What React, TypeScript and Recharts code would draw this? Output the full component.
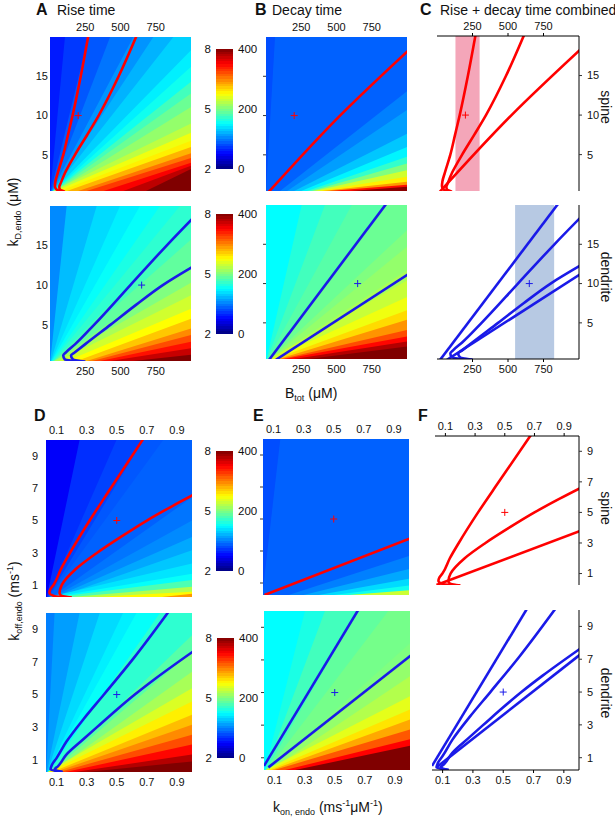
import React from "react";
import { ComposedChart, Area, Line, Scatter, XAxis, YAxis, ReferenceArea } from "recharts";

const FONT = "'Liberation Sans', Arial, Helvetica, sans-serif";
const RED = "#ff0000";
const BLUE = "#1a1ae8";

// tick labels
const bTicks = [250, 500, 750];
const kdTicks = [5, 10, 15];
const konTicks = [0.1, 0.3, 0.5, 0.7, 0.9];
const koffTicks = [1, 3, 5, 7, 9];
const cbarLeft = ["8", "5", "2"];
const cbarRight = ["400", "200", "0"];

// heat maps: each edge is where one iso-level line enters and leaves the frame [x0, y0, x1, y1];
// levels = colour-bar value (0-400) of the background, then of the region below each edge
const riseSpineEdges = [
  [0, 0, 106, 20], [0, 0, 272, 20], [0, 0, 426, 20], [0, 0, 591, 20], [0, 0, 733, 20],
  [0, 0, 875, 20], [0, 0, 1000, 18.3], [0, 0, 1000, 16.2], [0, 0, 1000, 14.3], [0, 0, 1000, 12.8],
  [0, 0, 1000, 11.1], [20, 0.4, 1000, 9.0], [40, 0.4, 1000, 7.8], [70, 0.4, 1000, 6.8],
  [120, 0.4, 1000, 6.0], [200, 0.4, 1000, 5.2], [260, 0.4, 1000, 4.6], [380, 0.4, 1000, 4.0],
  [520, 0.4, 1000, 3.6], [680, 0.4, 1000, 3.2],
];
const riseSpineLevels = [60, 72, 84, 96, 108, 120, 132, 144, 156, 176, 192, 208, 224, 244, 256, 280, 304, 328, 352, 376, 400];

const riseDendEdges = [
  [0, 0, 118, 20], [0, 0, 331, 20], [0, 0, 496, 20], [0, 0, 638, 20], [0, 0, 780, 20],
  [0, 0, 922, 20], [0, 0, 1000, 17.8], [0, 0, 1000, 15.75], [0, 0, 1000, 12.4],
  [30, 0.4, 1000, 10.3], [60, 0.4, 1000, 8.7], [120, 0.4, 1000, 7.0], [190, 0.4, 1000, 5.75],
  [260, 0.4, 1000, 4.5], [300, 0.4, 1000, 3.7], [355, 0.4, 1000, 2.85], [426, 0.4, 1000, 2.0],
  [590, 0.4, 1000, 1.2],
];
const riseDendLevels = [104, 124, 136, 144, 152, 160, 168, 176, 188, 200, 216, 232, 250, 272, 296, 320, 344, 372, 400];

const decaySpineEdges = [
  [0, 0.4, 64, 20], [100, 0.4, 1000, 13.1], [150, 0.4, 1000, 10.7], [200, 0.4, 1000, 7.7],
  [250, 0.4, 1000, 6.0], [290, 0.4, 1000, 4.75], [320, 0.4, 1000, 3.9], [340, 0.4, 1000, 3.05],
  [370, 0.4, 1000, 2.2], [400, 0.4, 1000, 1.57], [450, 0.4, 1000, 1.2], [600, 0.4, 1000, 0.95],
];
const decaySpineLevels = [80, 88, 100, 112, 128, 146, 170, 200, 232, 256, 290, 345, 395];

const decayDendEdges = [
  [0, 0, 253, 20], [0, 0, 418, 20], [0, 0, 608, 20], [0, 0, 851, 20], [0, 0, 1000, 16.8],
  [0, 0, 1000, 14.7], [0, 0, 1000, 11.7], [20, 0.4, 1000, 10.4], [40, 0.4, 1000, 8.3],
  [60, 0.4, 1000, 6.6], [90, 0.4, 1000, 5.4], [110, 0.4, 1000, 4.1], [130, 0.4, 1000, 3.26],
  [200, 0.4, 1000, 2.63], [300, 0.4, 1000, 2.0],
];
const decayDendLevels = [150, 164, 176, 184, 192, 200, 208, 216, 228, 244, 264, 292, 320, 348, 380, 400];

const kinRiseSpineEdges = [
  [0.03, 0, 0.253, 10], [0.03, 0, 0.498, 10], [0.03, 0, 0.676, 10], [0.03, 0, 0.809, 10],
  [0.03, 0, 1, 6.44], [0.03, 0, 1, 5.0], [0.03, 0, 1, 3.97], [0.03, 0, 1, 3.15],
  [0.05, 0.25, 1, 2.33], [0.07, 0.25, 1, 1.7], [0.1, 0.25, 1, 1.3], [0.2, 0.25, 1, 0.88],
  [0.35, 0.25, 1, 0.57], [0.8, 0.25, 1, 0.45],
];
const kinRiseSpineLevels = [48, 68, 76, 84, 88, 96, 104, 116, 128, 140, 152, 180, 220, 252, 290];

const kinRiseDendEdges = [
  [0.03, 0, 0.087, 10], [0.03, 0, 0.253, 10], [0.03, 0, 0.387, 10], [0.03, 0, 0.542, 10],
  [0.03, 0, 0.631, 10], [0.03, 0, 0.787, 10], [0.03, 0, 1, 8.64], [0.03, 0, 1, 7.62],
  [0.03, 0, 1, 6.4], [0.04, 0.25, 1, 5.39], [0.05, 0.25, 1, 4.57], [0.07, 0.25, 1, 3.76],
  [0.09, 0.25, 1, 3.15], [0.12, 0.25, 1, 2.54], [0.16, 0.25, 1, 1.93], [0.22, 0.25, 1, 1.32],
  [0.3, 0.25, 1, 0.9],
];
const kinRiseDendLevels = [100, 112, 124, 136, 144, 152, 168, 184, 200, 216, 236, 256, 276, 296, 320, 348, 380, 400];

const kinDecaySpineEdges = [
  [0.03, 0.6, 0.145, 10], [0.2, 0.25, 1, 2.69], [0.3, 0.25, 1, 1.87], [0.4, 0.25, 1, 1.26],
  [0.5, 0.25, 1, 0.85], [0.6, 0.25, 1, 0.54],
];
const kinDecaySpineLevels = [80, 88, 100, 116, 136, 156, 230];

const kinDecayDendEdges = [
  [0.03, 0, 0.302, 10], [0.03, 0, 0.435, 10], [0.03, 0, 0.653, 10], [0.03, 0, 0.856, 10],
  [0.03, 0, 1, 8.03], [0.03, 0, 1, 7.26], [0.03, 0, 1, 6.0], [0.04, 0.25, 1, 4.78],
  [0.06, 0.25, 1, 3.96], [0.08, 0.25, 1, 3.35], [0.1, 0.25, 1, 2.74], [0.17, 0.25, 1, 2.13],
  [0.236, 0.25, 1, 1.73],
];
const kinDecayDendLevels = [150, 160, 176, 188, 196, 200, 208, 220, 240, 260, 284, 316, 350, 400];

// contour lines [x, y], ordered bottom to top
const riseSpineA = [[85, 0.3], [45, 0.6], [35, 1.0], [38, 1.6], [55, 2.7], [94, 5], [127, 7.5], [160, 10], [218, 15], [272, 20.2]];
const riseSpineB = [[105, 0.3], [70, 0.6], [66, 0.9], [76, 1.4], [106, 2.7], [177, 5], [262, 7.5], [345, 10], [487, 15], [615, 20.2]];
const decaySpine = [[15, 0.2], [525, 10], [1010, 18.3]];
const riseDendA = [[250, 0.3], [105, 0.6], [94, 1.1], [113, 1.5], [177, 2.5], [314, 5], [570, 10], [827, 15], [1010, 18.4]];
const riseDendB = [[250, 0.3], [163, 0.6], [149, 1.1], [177, 1.5], [248, 2.5], [430, 5], [610, 7.5], [800, 10], [1010, 12.3]];
const decayDendA = [[22, 0.3], [855, 20.2]];
const decayDendB = [[70, 0.3], [1010, 11.2]];

const kinRiseSpineA = [[0.2, 0.22], [0.087, 0.3], [0.053, 0.51], [0.06, 0.75], [0.08, 1.0], [0.13, 2.0], [0.19, 3.0], [0.32, 5.0], [0.46, 7.0], [0.675, 10.05]];
const kinRiseSpineB = [[0.2, 0.22], [0.13, 0.35], [0.12, 0.5], [0.135, 1.0], [0.23, 2.0], [0.37, 3.0], [0.53, 4.0], [0.7, 5.0], [0.87, 5.9], [1.01, 6.6]];
const kinDecaySpine = [[0.04, 0.25], [1.01, 3.8]];
const kinRiseDendA = [[0.14, 0.25], [0.06, 0.4], [0.07, 0.7], [0.1, 1.1], [0.165, 2.1], [0.28, 3.5], [0.415, 5.0], [0.61, 7.2], [0.842, 10.05]];
const kinRiseDendB = [[0.14, 0.25], [0.087, 0.41], [0.109, 0.6], [0.164, 1.3], [0.276, 2.24], [0.387, 3.15], [0.5, 4.07], [0.62, 5.0], [0.76, 6.0], [1.01, 7.66]];
const kinDecayDendA = [[0.03, 0.5], [0.655, 10.05]];
const kinDecayDendB = [[0.059, 0.41], [1.01, 7.3]];

// measured values (+) and ranges of B_tot
const spineOpt = [{ x: 200, y: 10 }];
const dendOpt = [{ x: 650, y: 10 }];
const kinOpt = [{ x: 0.5, y: 5 }];
const spineRange = [130, 300];
const dendRange = [550, 825];

function jet(v: number) {
  const f = Math.max(0, Math.min(1, v / 400));
  const c = (t: number) => Math.round(255 * Math.max(0, Math.min(1, t)));
  const r = c(Math.min(4 * f - 1.5, -4 * f + 4.5));
  const g = c(Math.min(4 * f - 0.5, -4 * f + 3.5));
  const b = c(Math.min(4 * f + 0.5, -4 * f + 2.5));
  return `rgb(${r},${g},${b})`;
}

function bandRows(edges: number[][], xd: number[]) {
  return xd.map((x) => {
    const row: Record<string, any> = { x, bg: [-500, 500] };
    edges.forEach((e, i) => {
      row["b" + i] = [-500, e[1] + ((e[3] - e[1]) * (x - e[0])) / (e[2] - e[0])];
    });
    return row;
  });
}

const plus = (color: string) => (props: any) => {
  const { cx, cy } = props;
  return (
    <g>
      <line x1={cx - 3.5} x2={cx + 3.5} y1={cy} y2={cy} stroke={color} strokeWidth={1} />
      <line x1={cx} x2={cx} y1={cy - 3.5} y2={cy + 3.5} stroke={color} strokeWidth={1} />
    </g>
  );
};

type PanelProps = {
  left: number; top: number; w: number; h: number;
  xd: number[]; yd: number[]; xTicks: number[]; yTicks: number[];
  xSide: "top" | "bottom"; ySide: "left" | "right";
  yLabels?: boolean; framed?: boolean; yGap?: number;
  edges?: number[][]; levels?: number[];
  curves: number[][][]; color: string; marker: { x: number; y: number }[];
  band?: number[]; bandColor?: string;
};

function Panel(p: PanelProps) {
  const PAD = 34, XH = 22, YW = 30;
  const rows = p.edges ? bandRows(p.edges, p.xd) : p.xd.map((x) => ({ x }));
  const tick = { fontSize: 11, fill: "#111", fontFamily: FONT };
  const axisLine = p.framed ? { stroke: "#000", strokeWidth: 1 } : false;
  const margin = {
    top: PAD - (p.xSide === "top" ? XH : 0),
    bottom: PAD - (p.xSide === "bottom" ? XH : 0),
    left: PAD - (p.ySide === "left" ? YW : 0),
    right: PAD - (p.ySide === "right" ? YW : 0),
  };
  return (
    <div style={{ position: "absolute", left: p.left - PAD, top: p.top - PAD }}>
      <ComposedChart width={p.w + 2 * PAD} height={p.h + 2 * PAD} data={rows} margin={margin}>
        <XAxis
          type="number" dataKey="x" domain={p.xd} allowDataOverflow orientation={p.xSide}
          height={XH} ticks={p.xTicks} interval={0} tick={tick}
          tickSize={p.framed ? 3 : 0} tickMargin={p.framed ? 3 : 6}
          tickLine={p.framed ? { stroke: "#000" } : false} axisLine={axisLine}
        />
        <YAxis
          type="number" domain={p.yd} allowDataOverflow orientation={p.ySide}
          width={YW} ticks={p.yTicks} interval={0} tick={tick}
          tickFormatter={p.yLabels === false ? () => "" : undefined}
          tickSize={p.yLabels === false || p.framed ? 3 : 0}
          tickMargin={p.framed ? 5 : p.yGap ?? 3}
          tickLine={p.yLabels === false || p.framed ? { stroke: "#333" } : false}
          axisLine={axisLine}
        />
        {p.edges && (
          <Area dataKey="bg" type="linear" stroke="none" fill={jet(p.levels![0])} fillOpacity={1}
            dot={false} activeDot={false} isAnimationActive={false} />
        )}
        {p.edges?.map((_, i) => (
          <Area key={"b" + i} dataKey={"b" + i} type="linear" stroke="none" fill={jet(p.levels![i + 1])}
            fillOpacity={1} dot={false} activeDot={false} isAnimationActive={false} />
        ))}
        {p.band && (
          <ReferenceArea x1={p.band[0]} x2={p.band[1]} y1={p.yd[0]} y2={p.yd[1]} fill={p.bandColor}
            fillOpacity={1} stroke="none" />
        )}
        {p.curves.map((c, i) => (
          <Line key={"c" + i} data={c.map(([x, y]) => ({ x, y }))} dataKey="y" type="monotoneY"
            stroke={p.color} strokeWidth={2.6} dot={false} activeDot={false} isAnimationActive={false} />
        ))}
        <Scatter data={p.marker} dataKey="y" shape={plus(p.color)} isAnimationActive={false} />
      </ComposedChart>
    </div>
  );
}

function ColorBar({ left, top }: { left: number; top: number }) {
  const steps = 48;
  const stops: string[] = [];
  for (let i = 0; i < steps; i++) {
    const c = jet(((i + 0.5) / steps) * 400);
    stops.push(`${c} ${(i / steps) * 100}%`, `${c} ${((i + 1) / steps) * 100}%`);
  }
  const lab: React.CSSProperties = { position: "absolute", fontSize: 11.5, lineHeight: "12px", fontFamily: FONT, color: "#111" };
  return (
    <>
      <div style={{ position: "absolute", left, top, width: 17, height: 120, background: `linear-gradient(to top, ${stops.join(",")})` }} />
      {cbarLeft.map((t, i) => (
        <div key={"l" + t} style={{ ...lab, left: left - 35, width: 30, textAlign: "right", top: top + i * 60 - 6 }}>{t}</div>
      ))}
      {cbarRight.map((t, i) => (
        <div key={"r" + t} style={{ ...lab, left: left + 22, top: top + i * 60 - 6 }}>{t}</div>
      ))}
    </>
  );
}

function Title({ letter, text, left, textLeft, base }: { letter: string; text?: string; left: number; textLeft?: number; base: number }) {
  return (
    <>
      <div style={{ position: "absolute", left, top: base - 13.5, fontSize: 16, lineHeight: "16px", fontWeight: "bold" }}>{letter}</div>
      {text && <div style={{ position: "absolute", left: textLeft, top: base - 12, fontSize: 14, lineHeight: "14px", whiteSpace: "nowrap" }}>{text}</div>}
    </>
  );
}

function VText({ cx, cy, angle, children }: { cx: number; cy: number; angle: number; children: React.ReactNode }) {
  return (
    <div style={{ position: "absolute", left: cx, top: cy, transform: `translate(-50%, -50%) rotate(${angle}deg)`, whiteSpace: "nowrap", fontSize: 14, lineHeight: "16px" }}>
      {children}
    </div>
  );
}

const sub: React.CSSProperties = { fontSize: 9, verticalAlign: "-3px" };
const sup: React.CSSProperties = { fontSize: 9, verticalAlign: "6px" };

export default function App() {
  const top = { xd: [0, 1000], yd: [0.4, 20], xTicks: bTicks, yTicks: kdTicks };
  const bot = { xd: [0.03, 1], yd: [0.25, 10], xTicks: konTicks, yTicks: koffTicks };
  return (
    <div style={{ position: "absolute", left: 0, top: 0, width: 615, height: 819, background: "#fff", overflow: "hidden", fontFamily: FONT, color: "#111" }}>
      <Title letter="A" text="Rise time" left={36} textLeft={57} base={15} />
      <Title letter="B" text="Decay time" left={255} textLeft={272} base={15} />
      <Title letter="C" text="Rise + decay time combined" left={420} textLeft={440} base={15} />
      <Title letter="D" left={34} base={421} />
      <Title letter="E" left={253} base={421} />
      <Title letter="F" left={418} base={421} />

      <Panel {...top} left={50} top={37} w={141} h={154} xSide="top" ySide="left" yGap={2}
        edges={riseSpineEdges} levels={riseSpineLevels} curves={[riseSpineA, riseSpineB]} color={RED} marker={spineOpt} />
      <Panel {...top} left={50} top={206} w={141} h={155} xSide="bottom" ySide="left" yGap={2}
        edges={riseDendEdges} levels={riseDendLevels} curves={[riseDendA, riseDendB]} color={BLUE} marker={dendOpt} />
      <Panel {...top} left={266} top={37} w={141} h={154} xSide="top" ySide="left" yLabels={false}
        edges={decaySpineEdges} levels={decaySpineLevels} curves={[decaySpine]} color={RED} marker={spineOpt} />
      <Panel {...top} left={266} top={205} w={141} h={154} xSide="bottom" ySide="left" yLabels={false}
        edges={decayDendEdges} levels={decayDendLevels} curves={[decayDendA, decayDendB]} color={BLUE} marker={dendOpt} />
      <Panel {...top} left={437} top={36} w={142} h={155} xSide="top" ySide="right" framed
        band={spineRange} bandColor="#f4a6b9" curves={[riseSpineA, riseSpineB, decaySpine]} color={RED} marker={spineOpt} />
      <Panel {...top} left={437} top={205} w={142} h={154} xSide="bottom" ySide="right" framed
        band={dendRange} bandColor="#b7c9e3" curves={[riseDendA, riseDendB, decayDendA, decayDendB]} color={BLUE} marker={dendOpt} />

      <Panel {...bot} left={46} top={440} w={146} h={157} xSide="top" ySide="left" yGap={8}
        edges={kinRiseSpineEdges} levels={kinRiseSpineLevels} curves={[kinRiseSpineA, kinRiseSpineB]} color={RED} marker={kinOpt} />
      <Panel {...bot} left={46} top={613} w={146} h={159} xSide="bottom" ySide="left" yGap={8}
        edges={kinRiseDendEdges} levels={kinRiseDendLevels} curves={[kinRiseDendA, kinRiseDendB]} color={BLUE} marker={kinOpt} />
      <Panel {...bot} left={263} top={439} w={146} h={156} xSide="top" ySide="left" yLabels={false}
        edges={kinDecaySpineEdges} levels={kinDecaySpineLevels} curves={[kinDecaySpine]} color={RED} marker={kinOpt} />
      <Panel {...bot} left={264} top={611} w={146} h={159} xSide="bottom" ySide="left" yLabels={false}
        edges={kinDecayDendEdges} levels={kinDecayDendLevels} curves={[kinDecayDendA, kinDecayDendB]} color={BLUE} marker={kinOpt} />
      <Panel {...bot} left={435} top={436} w={144} h={149} xSide="top" ySide="right" framed
        curves={[kinRiseSpineA, kinRiseSpineB, kinDecaySpine]} color={RED} marker={kinOpt} />
      <Panel {...bot} left={432} top={610} w={147} h={160} xSide="bottom" ySide="right" framed
        curves={[kinRiseDendA, kinRiseDendB, kinDecayDendA, kinDecayDendB]} color={BLUE} marker={kinOpt} />

      <ColorBar left={216} top={49} />
      <ColorBar left={216} top={214} />
      <ColorBar left={216} top={451} />
      <ColorBar left={217} top={638} />

      <VText cx={15} cy={212} angle={-90}>
        k<span style={sub}>D,endo</span> (μM)
      </VText>
      <VText cx={14} cy={601} angle={-90}>
        k<span style={sub}>off,endo</span> (ms<span style={sup}>-1</span>)
      </VText>
      <VText cx={606} cy={107} angle={90}>spine</VText>
      <VText cx={606} cy={277} angle={90}>dendrite</VText>
      <VText cx={606} cy={508} angle={90}>spine</VText>
      <VText cx={606} cy={693} angle={90}>dendrite</VText>

      <div style={{ position: "absolute", left: 285, top: 386, fontSize: 14, lineHeight: "14px", whiteSpace: "nowrap" }}>
        B<span style={sub}>tot</span> (μM)
      </div>
      <div style={{ position: "absolute", left: 273, top: 795, fontSize: 14, lineHeight: "16px", whiteSpace: "nowrap" }}>
        k<span style={sub}>on, endo</span> (ms<span style={sup}>-1</span>μM<span style={sup}>-1</span>)
      </div>
    </div>
  );
}
